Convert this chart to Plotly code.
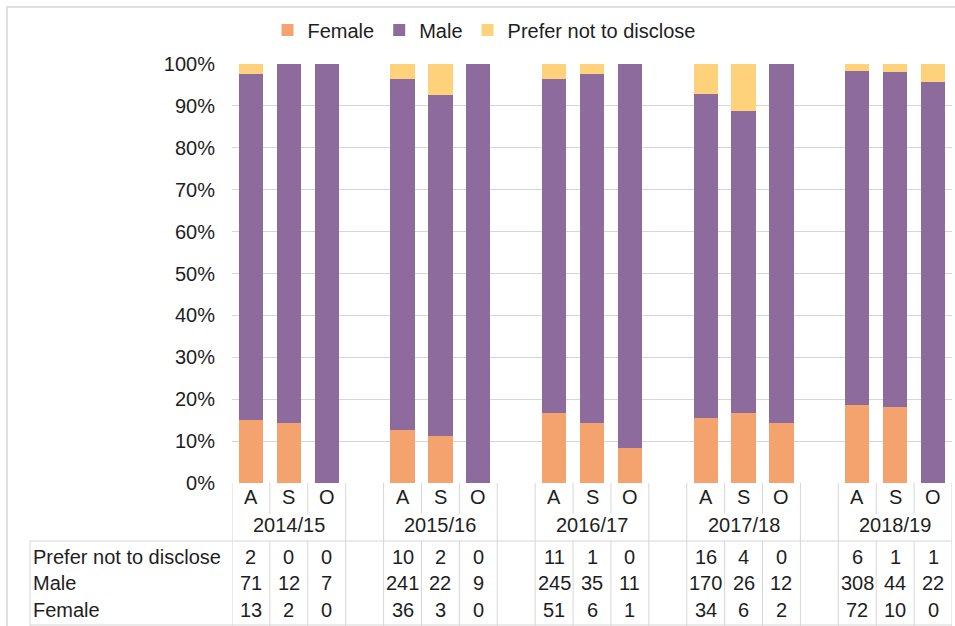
import plotly.graph_objects as go

years = ["2014/15", "2015/16", "2016/17", "2017/18", "2018/19"]
roles = ["A", "S", "O"]
female = [13, 2, 0, 36, 3, 0, 51, 6, 1, 34, 6, 2, 72, 10, 0]
male = [71, 12, 7, 241, 22, 9, 245, 35, 11, 170, 26, 12, 308, 44, 22]
prefer = [2, 0, 0, 10, 2, 0, 11, 1, 0, 16, 4, 0, 6, 1, 1]
y_ticks = list(range(0, 101, 10))
y_ticktext = [f"{v}%" for v in y_ticks]

C_F = "#F4A36F"
C_M = "#8D6B9C"
C_P = "#FDD27B"
LINE = "#d6d6d6"
TXT = "#1e1e1e"
FONT = "Liberation Sans, Arial, sans-serif"
FS = 20

W, H = 955, 626
L, R, T, B = 232, 3, 64, 143
PW, PH = W - L - R, H - T - B


def py(p):  # pixel y -> paper y
    return (H - B - p) / PH


def px(p):  # pixel x -> paper x
    return (p - L) / PW


xs = [g * 4 + j for g in range(len(years)) for j in range(len(roles))]

fig = go.Figure()
for name, vals, col in [("Female", female, C_F), ("Male", male, C_M), ("Prefer not to disclose", prefer, C_P)]:
    fig.add_trace(go.Bar(x=xs, y=vals, name=name, marker=dict(color=col, line=dict(width=0)), width=0.64))

shapes = []
ann = []
n_slots = len(years) * 4 - 1
for k in range(n_slots + 1):
    xb = k - 0.5
    inner = (k % 4) in (1, 2)
    top_end = py(514) if inner else py(541)
    shapes.append(dict(type="line", xref="x", yref="paper", x0=xb, x1=xb, y0=0, y1=top_end,
                       line=dict(color=LINE, width=1)))
    shapes.append(dict(type="line", xref="x", yref="paper", x0=xb, x1=xb, y0=py(541), y1=py(630),
                       line=dict(color=LINE, width=1)))
shapes.append(dict(type="line", xref="paper", yref="paper", x0=px(30), x1=px(30), y0=py(541), y1=py(630),
                   line=dict(color=LINE, width=1)))
shapes.append(dict(type="line", xref="paper", yref="paper", x0=px(30), x1=1, y0=py(541), y1=py(541),
                   line=dict(color=LINE, width=1)))
shapes.append(dict(type="line", xref="paper", yref="paper", x0=px(30), x1=1, y0=py(625), y1=py(625),
                   line=dict(color=LINE, width=1)))
shapes.append(dict(type="rect", xref="paper", yref="paper", x0=px(7), x1=px(960), y0=py(640), y1=py(7),
                   line=dict(color="#e0e0e0", width=2)))

for i, x in enumerate(xs):
    ann.append(dict(x=x, y=py(497), xref="x", yref="paper", text=roles[i % 3], showarrow=False,
                    xanchor="center", yanchor="middle", font=dict(size=FS, color=TXT)))
for g, yr in enumerate(years):
    ann.append(dict(x=g * 4 + 1, y=py(525), xref="x", yref="paper", text=yr, showarrow=False,
                    xanchor="center", yanchor="middle", font=dict(size=FS, color=TXT)))

rows = [("Prefer not to disclose", prefer, 557), ("Male", male, 583), ("Female", female, 610)]
for label, vals, yp in rows:
    ann.append(dict(x=px(31), y=py(yp), xref="paper", yref="paper", text=label, showarrow=False,
                    xanchor="left", yanchor="middle", font=dict(size=FS, color=TXT)))
    for x, v in zip(xs, vals):
        ann.append(dict(x=x, y=py(yp), xref="x", yref="paper", text=str(v), showarrow=False,
                        xanchor="center", yanchor="middle", font=dict(size=FS, color=TXT)))

fig.update_layout(
    width=W, height=H,
    margin=dict(l=L, r=R, t=T, b=B),
    barmode="stack", barnorm="percent",
    plot_bgcolor="white", paper_bgcolor="white",
    font=dict(family=FONT, size=FS, color=TXT),
    showlegend=True,
    legend=dict(orientation="h", x=px(484), xanchor="center", y=py(30), yanchor="middle",
                font=dict(size=FS, color=TXT), itemwidth=30, traceorder="normal",
                bgcolor="rgba(0,0,0,0)"),
    xaxis=dict(range=[-0.5, n_slots - 0.5], showticklabels=False, showgrid=False, zeroline=False,
               ticks="", showline=False),
    yaxis=dict(range=[0, 100], tickmode="array", tickvals=y_ticks, ticktext=y_ticktext,
               showgrid=True, gridcolor=LINE, gridwidth=1, zeroline=False, ticks="",
               ticklabelstandoff=16, showline=False, tickfont=dict(size=FS, color=TXT)),
    shapes=shapes, annotations=ann,
)

fig.write_html("out.html", config={"displayModeBar": False},
               post_script="document.body.style.margin='0';document.body.style.overflow='hidden';")
